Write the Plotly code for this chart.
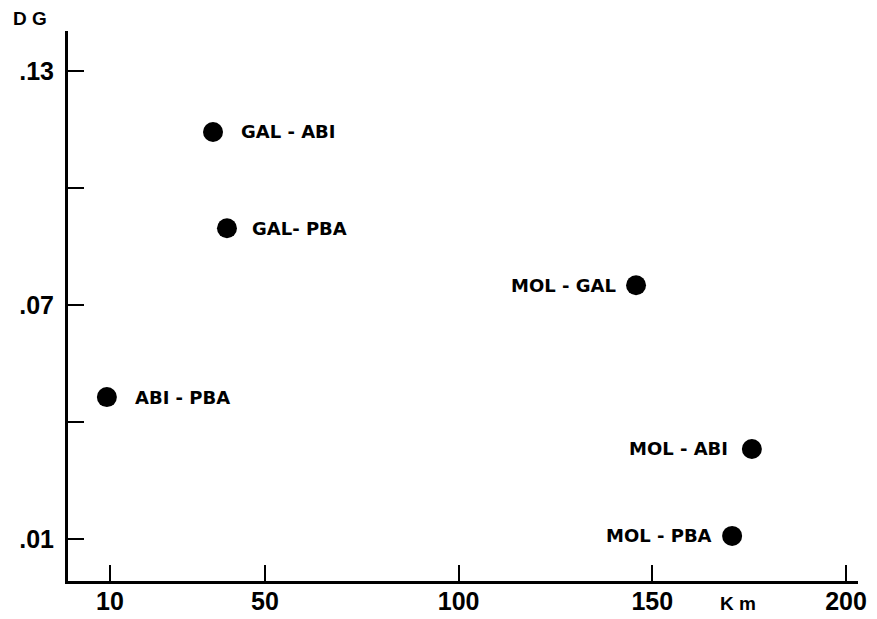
import plotly.graph_objects as go

pairs = ["GAL - ABI", "GAL- PBA", "MOL - GAL", "ABI - PBA", "MOL - ABI", "MOL - PBA"]
km = [36.6, 40.2, 145.8, 9.2, 175.7, 170.6]
dg = [0.1144, 0.0897, 0.0751, 0.0464, 0.0331, 0.0108]
label_side = ["right", "right", "left", "right", "left", "left"]
label_gap = [16, 13, 8, 16, 12, 8]

x_ticks = [10, 50, 100, 150, 200]
x_ticktext = ["10", "50", "100", "150", "200"]
y_ticks = [0.01, 0.04, 0.07, 0.10, 0.13]
y_ticktext = [".01", "", ".07", "", ".13"]

fig = go.Figure()
fig.add_trace(go.Scatter(
    x=km, y=dg, mode="markers",
    marker=dict(size=20, color="black"),
    hoverinfo="skip", showlegend=False,
))

annotations = []
for name, xv, yv, side, gap in zip(pairs, km, dg, label_side, label_gap):
    shift = 10 + gap
    annotations.append(dict(
        x=xv, y=yv, xref="x", yref="y", text=name, showarrow=False,
        xanchor="left" if side == "right" else "right",
        xshift=shift if side == "right" else -shift,
        yanchor="middle",
        font=dict(family="DejaVu Sans", size=18, color="black", weight="bold"),
    ))

annotations.append(dict(
    x=-0.072, y=1.022, xref="paper", yref="paper", text="D G", showarrow=False,
    xanchor="left", yanchor="middle",
    font=dict(family="Liberation Sans", size=19, color="black", weight="bold"),
))
annotations.append(dict(
    x=0.848, y=-0.018, xref="paper", yref="paper", text="K m", showarrow=False,
    xanchor="center", yanchor="top",
    font=dict(family="Liberation Sans", size=19, color="black", weight="bold"),
))

fig.update_layout(
    width=869, height=611,
    margin=dict(l=60, r=19, t=23, b=38, autoexpand=False),
    plot_bgcolor="white", paper_bgcolor="white",
    annotations=annotations,
    xaxis=dict(
        range=[-0.84, 203.1], showgrid=False, zeroline=False, automargin=False,
        showline=True, linecolor="black", linewidth=3,
        ticks="inside", ticklen=16, tickwidth=2, tickcolor="black",
        tickvals=x_ticks, ticktext=x_ticktext,
        tickfont=dict(family="Liberation Sans", size=25, color="black", weight="bold"),
        ticklabelstandoff=-4,
    ),
    yaxis=dict(
        range=[-0.00077, 0.1403], showgrid=False, zeroline=False, automargin=False,
        showline=True, linecolor="black", linewidth=3,
        ticks="inside", ticklen=16, tickwidth=2, tickcolor="black",
        tickvals=y_ticks, ticktext=y_ticktext,
        tickfont=dict(family="Liberation Sans", size=25, color="black", weight="bold"),
        ticklabelstandoff=6,
    ),
)

fig.write_html("out.html")
